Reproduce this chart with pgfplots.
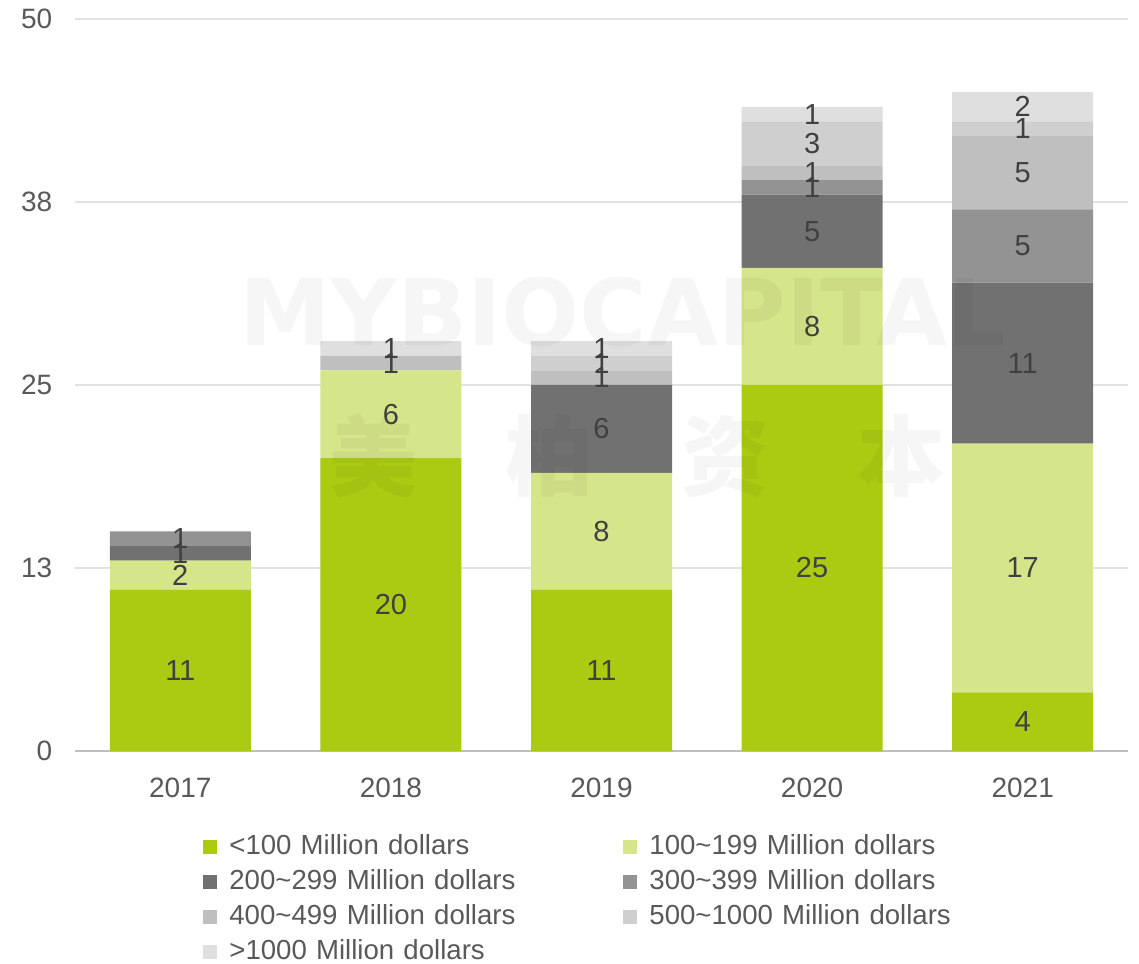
\documentclass[border=0pt]{standalone}
\usepackage{pgfplots}
\pgfplotsset{compat=1.18}
\usepackage{pgfplotstable}
\usepackage{fontspec}
\setmainfont{Liberation Sans}
\newfontfamily\cjk{Noto Sans CJK SC}
\newfontfamily\wmfont{DejaVu Sans}
\definecolor{c1}{HTML}{ABCA12}
\definecolor{c2}{HTML}{D5E589}
\definecolor{c3}{HTML}{717171}
\definecolor{c4}{HTML}{939393}
\definecolor{c5}{HTML}{BFBFBF}
\definecolor{c6}{HTML}{CFCFCF}
\definecolor{c7}{HTML}{DFDFDF}
\definecolor{tickc}{HTML}{595959}
\definecolor{labc}{HTML}{404040}
\definecolor{gridc}{HTML}{E2E2E2}
\definecolor{axisc}{HTML}{BFBFBF}

\pgfplotstableread{
x a b c d e f g
0 11 2 1 1 0 0 0
1 20 6 0 0 1 0 1
2 11 8 6 0 1 1 1
3 25 8 5 1 1 3 1
4 4 17 11 5 5 1 2
}\data

\pgfplotstableread{
x y lab
0 5.5 11
0 12 2
0 13.5 1
0 14.5 1
1 10 20
1 23 6
1 26.5 1
1 27.5 1
2 5.5 11
2 15 8
2 22 6
2 25.5 1
2 26.5 1
2 27.5 1
3 12.5 25
3 29 8
3 35.5 5
3 38.5 1
3 39.5 1
3 41.5 3
3 43.5 1
4 2 4
4 12.5 17
4 26.5 11
4 34.5 5
4 39.5 5
4 42.5 1
4 44 2
}\labels

\pgfplotsset{
  base/.style={
    width=526.5pt, height=366pt, scale only axis,
    xmin=-0.5, xmax=4.5, ymin=0, ymax=50,
  },
}

\begin{document}
\fontsize{14}{17}\selectfont
\begin{tikzpicture}
\begin{axis}[base, name=ax,
  ybar stacked, bar width=70.5pt,
  axis x line*=bottom, axis y line*=left,
  x axis line style={draw=axisc, line width=1pt, -},
  y axis line style={draw=none},
  xtick={0,1,2,3,4}, xticklabels={2017,2018,2019,2020,2021},
  ytick={0,12.5,25,37.5,50}, yticklabels={0,13,25,38,50},
  ymajorgrids, grid style={draw=gridc, line width=1pt},
  major tick length=0pt,
  tick label style={font=\fontsize{14}{17}\selectfont, text=tickc},
  /pgf/number format/assume math mode=true,
  xticklabel style={yshift=-8.5pt},
  yticklabel style={xshift=-6.5pt},
  legend columns=2,
  legend style={at={(axis description cs:0,0)}, anchor=north west,
    xshift=64pt, yshift=-40.5pt, draw=none, fill=none, inner sep=0pt,
    column sep=5pt, row sep=2.5pt,
    /tikz/column 2/.style={column sep=6pt},
    nodes={inner sep=1pt, text height=10pt, text depth=3pt, text width=190pt,
      font=\fontsize{13.8}{17}\selectfont, text=tickc}},
  legend cell align=left,
  legend image code/.code={\fill[#1] (0pt,-3.5pt) rectangle (7pt,3.5pt);},
]
\addplot[fill=c1, draw=none] table[x=x, y=a] {\data};
\addplot[fill=c2, draw=none] table[x=x, y=b] {\data};
\addplot[fill=c3, draw=none] table[x=x, y=c] {\data};
\addplot[fill=c4, draw=none] table[x=x, y=d] {\data};
\addplot[fill=c5, draw=none] table[x=x, y=e] {\data};
\addplot[fill=c6, draw=none] table[x=x, y=f] {\data};
\addplot[fill=c7, draw=none] table[x=x, y=g] {\data};
\legend{<100 Million dollars, 100\textasciitilde199 Million dollars,
  200\textasciitilde299 Million dollars, 300\textasciitilde399 Million dollars,
  400\textasciitilde499 Million dollars, 500\textasciitilde1000 Million dollars,
  >1000 Million dollars}
\end{axis}
\begin{axis}[base, at={(ax.south west)}, anchor=south west, hide axis, clip=false]
\addplot[only marks, mark=*, mark size=0pt, mark options={draw=none, fill=none},
  nodes near coords, point meta=explicit symbolic,
  every node near coord/.style={anchor=center, text=labc, inner sep=0pt,
    font=\fontsize{14.5}{17}\selectfont}]
  table[x=x, y=y, meta=lab] {\labels};
\node[opacity=0.035, text=black, font=\wmfont\bfseries\fontsize{46}{50}\selectfont]
  at (axis cs:2.1,30) {MYBIOCAPITAL};
\node[opacity=0.035, text=black, font=\cjk\bfseries\fontsize{44}{50}\selectfont]
  at (axis cs:2.17,20.2) {美\hspace{44pt}柏\hspace{44pt}资\hspace{44pt}本};
\end{axis}
\pgfresetboundingbox
\path (ax.south west) ++(-37.5pt,-106pt) rectangle ++(569.5pt,481.5pt);
\end{tikzpicture}
\end{document}
